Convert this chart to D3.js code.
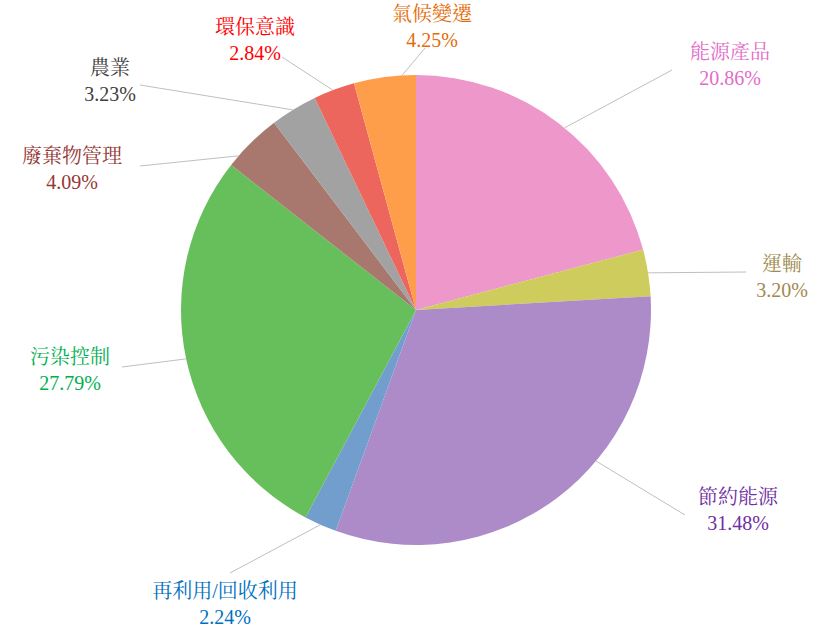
<!DOCTYPE html>
<html><head><meta charset="utf-8">
<script src="https://cdn.jsdelivr.net/npm/d3@7"></script>
<style>body{margin:0;background:#fff}</style>
</head><body>
<svg id="c" width="821" height="629"></svg>
<script>
const categories = ["能源產品","運輸","節約能源","再利用/回收利用","污染控制","廢棄物管理","農業","環保意識","氣候變遷"];
const values = [20.86, 3.20, 31.48, 2.24, 27.79, 4.09, 3.23, 2.84, 4.25];
const sliceColors = ["#ED97CA","#CDCC5D","#AD8BC9","#729ECE","#67BF5C","#A8786E","#A2A2A2","#ED665D","#FF9E4A"];
const labelColors = ["#E36CC8","#A08A4E","#7030A0","#0070C0","#00B050","#953735","#404040","#FF0000","#E36C09"];
// layout: label centre [x, y of first line], leader start angle (deg, clockwise from top) and leader end point
const labelPos = [[730,52],[782,264],[738,497],[225,591],[70,357],[72,156],[110,68],[255,27],[432,14]];
const leaderAngle = [39.2,80.9,130,204,258,311,328.4,339.3,356.6];
const lineEnd = [[672,70],[746,272],[685,515],[230,573],[122,367],[140,166],[140,85],[282,57],[425,48]];

const svg = d3.select("#c");
const cx = 416, cy = 310, r = 235;
const g = svg.append("g").attr("transform",`translate(${cx},${cy})`);
const pie = d3.pie().sort(null).value(d=>d);
const arcs = pie(values);
const arc = d3.arc().innerRadius(0).outerRadius(r);
g.selectAll("path").data(arcs).join("path")
  .attr("d",arc).attr("fill",(d,i)=>sliceColors[i]);

arcs.forEach((d,i)=>{
  const a = leaderAngle[i]*Math.PI/180;
  const x0 = cx + r*Math.sin(a), y0 = cy - r*Math.cos(a);
  svg.append("line").attr("x1",x0).attr("y1",y0)
    .attr("x2",lineEnd[i][0]).attr("y2",lineEnd[i][1])
    .attr("stroke","#BFBFBF").attr("stroke-width",1);
  const t = svg.append("text").attr("text-anchor","middle")
    .attr("font-family","\"Liberation Serif\", \"Noto Serif CJK TC\", \"Noto Sans CJK TC\"")
    .attr("font-size",20).attr("fill",labelColors[i]);
  t.append("tspan").attr("x",labelPos[i][0]).attr("y",labelPos[i][1]).attr("dy","0.35em").text(categories[i]);
  t.append("tspan").attr("x",labelPos[i][0]).attr("y",labelPos[i][1]+26).attr("dy","0.35em").text(values[i].toFixed(2)+"%");
});
</script>
</body></html>
